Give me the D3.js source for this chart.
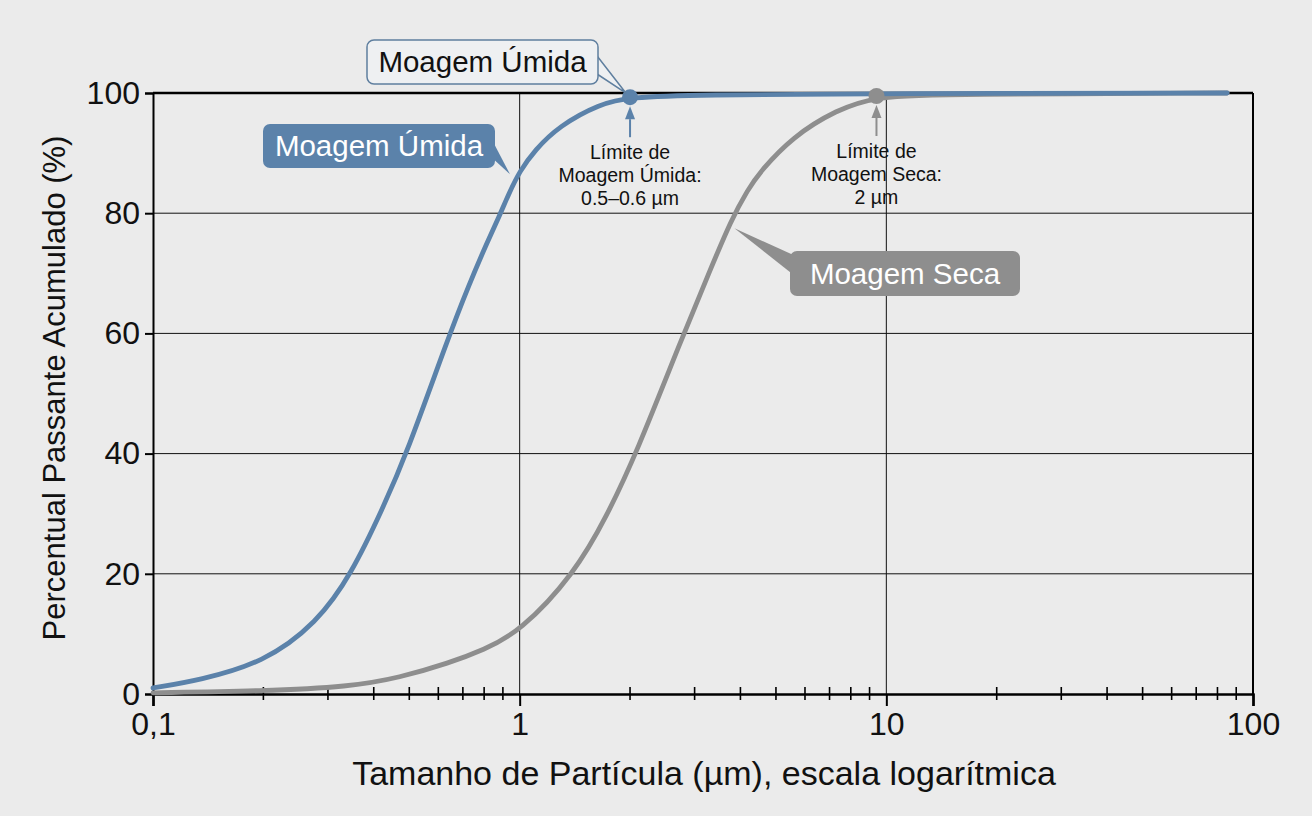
<!DOCTYPE html>
<html>
<head>
<meta charset="utf-8">
<script src="https://cdn.jsdelivr.net/npm/d3@7"></script>
<style>
  body { margin: 0; background: #ebebeb; }
  svg { display: block; font-family: "Liberation Sans", Arial, sans-serif; }
</style>
</head>
<body>
<div id="canvas"></div>
<script>
// Wet milling (Moagem Úmida) cumulative passing
const wetSizes   = [0.1, 0.134, 0.2, 0.28, 0.348, 0.424, 0.492, 0.636, 0.726, 0.82, 0.88, 0.93, 1.0, 1.1, 1.28, 1.65, 2.0, 3.0, 10, 85];
const wetPassing = [1.0, 2.3, 5.2, 11.8, 20, 31, 40, 59, 68, 75.5, 79.5, 83, 87, 90.5, 94.5, 98.2, 99.3, 99.7, 99.9, 100];

// Dry milling (Moagem Seca) cumulative passing
const drySizes   = [0.1, 0.2, 0.344, 0.47, 0.645, 0.794, 1.0, 1.41, 1.726, 2.08, 2.76, 3.28, 3.78, 4.2, 4.51, 5.54, 7.31, 9.4, 15, 85];
const dryPassing = [0.2, 0.5, 1.2, 2.7, 5.2, 7.3, 10.3, 20, 29.5, 40, 59, 70, 79, 84, 86.8, 92.7, 97.2, 99.5, 99.8, 100];

const yTicks = [0, 20, 40, 60, 80, 100];
const xMajor = [0.1, 1, 10, 100];
const xMajorLabels = ["0,1", "1", "10", "100"];

// limit markers
const limits = [
  { size: 2.0, value: 99.3, color: "#5b82aa", lines: ["Límite de", "Moagem Úmida:", "0.5–0.6 µm"] },
  { size: 9.4, value: 99.5, color: "#8e8e8e", lines: ["Límite de", "Moagem Seca:", "2 µm"] }
];

const W = 1312, H = 816;
const margin = { top: 93, right: 59, bottom: 122, left: 153 },
    width = W - margin.left - margin.right,
    height = H - margin.top - margin.bottom;

const svg = d3.select("#canvas").append("svg")
    .attr("width", W).attr("height", H);

const g = svg.append("g")
    .attr("transform", `translate(${margin.left},${margin.top})`);

const x = d3.scaleLog().domain([0.1, 100]).range([0, width]);
const y = d3.scaleLinear().domain([0, 100]).range([height, 0]);

const blue = "#5b82aa", gray = "#8e8e8e";

// grid
g.append("g").selectAll("line")
  .data([20, 40, 60, 80])
  .join("line")
  .attr("x1", 0).attr("x2", width)
  .attr("y1", d => y(d)).attr("y2", d => y(d))
  .attr("stroke", "#111").attr("stroke-width", 1);

g.append("g").selectAll("line")
  .data([1, 10])
  .join("line")
  .attr("x1", d => x(d)).attr("x2", d => x(d))
  .attr("y1", 0).attr("y2", height)
  .attr("stroke", "#111").attr("stroke-width", 1);

// frame
g.append("line").attr("x1", 0).attr("x2", width).attr("y1", 0).attr("y2", 0)
  .attr("stroke", "#000").attr("stroke-width", 2.5);
g.append("line").attr("x1", width).attr("x2", width).attr("y1", 0).attr("y2", height)
  .attr("stroke", "#000").attr("stroke-width", 2);

// y axis
const yAxis = g.append("g")
  .call(d3.axisLeft(y).tickValues(yTicks).tickSize(8).tickPadding(5).tickFormat(d3.format("d")));
yAxis.select(".domain").attr("stroke", "#000").attr("stroke-width", 2);
yAxis.selectAll(".tick line").attr("stroke", "#000").attr("stroke-width", 2);
yAxis.selectAll("text").attr("font-size", 32).attr("fill", "#111")
  .attr("font-family", "Liberation Sans, Arial, sans-serif");

// x axis minor ticks
const minor = [];
[0.1, 1, 10].forEach(b => { for (let k = 2; k <= 9; k++) minor.push(b * k); });
g.append("g").selectAll("line")
  .data(minor)
  .join("line")
  .attr("x1", d => x(d)).attr("x2", d => x(d))
  .attr("y1", height - 7).attr("y2", height + 6)
  .attr("stroke", "#000").attr("stroke-width", 1.6);

const xAxis = g.append("g")
  .attr("transform", `translate(0,${height})`)
  .call(d3.axisBottom(x).tickValues(xMajor).tickSize(12).tickPadding(6)
    .tickFormat((d, i) => xMajorLabels[i]));
xAxis.select(".domain").attr("stroke", "#000").attr("stroke-width", 2.5);
xAxis.selectAll(".tick line").attr("stroke", "#000").attr("stroke-width", 2);
xAxis.selectAll("text").attr("font-size", 32).attr("fill", "#111")
  .attr("font-family", "Liberation Sans, Arial, sans-serif");

// curves (smoothed through the read points)
const line = d3.line()
  .x(d => x(d[0]))
  .y(d => y(d[1]))
  .curve(d3.curveBasis);

g.append("path")
  .datum(drySizes.map((s, i) => [s, dryPassing[i]]))
  .attr("fill", "none").attr("stroke", gray).attr("stroke-width", 4.8)
  .attr("stroke-linecap", "round")
  .attr("d", line);

g.append("path")
  .datum(wetSizes.map((s, i) => [s, wetPassing[i]]))
  .attr("fill", "none").attr("stroke", blue).attr("stroke-width", 4.8)
  .attr("stroke-linecap", "round")
  .attr("d", line);

// limit markers + arrows + notes
limits.forEach(l => {
  const cx = x(l.size), cy = y(l.value);
  g.append("line")
    .attr("x1", cx).attr("x2", cx).attr("y1", cy + 22).attr("y2", cy + 40)
    .attr("stroke", l.color).attr("stroke-width", 2);
  g.append("path")
    .attr("d", `M${cx},${cy + 9}L${cx - 5},${cy + 22}L${cx + 5},${cy + 22}Z`)
    .attr("fill", l.color);
  g.append("circle").attr("cx", cx).attr("cy", cy).attr("r", 8).attr("fill", l.color);
  const t = g.append("text")
    .attr("x", cx).attr("y", cy + 62)
    .attr("text-anchor", "middle").attr("font-size", 19.5).attr("fill", "#111");
  l.lines.forEach((s, i) => t.append("tspan").attr("x", cx).attr("dy", i ? 23 : 0).text(s));
});

// callout helper
function callout(bx, by, bw, bh, tip, fill, txtColor, label) {
  const grp = svg.append("g");
  grp.append("path").attr("d", tip).attr("fill", fill);
  grp.append("rect")
    .attr("x", bx).attr("y", by).attr("width", bw).attr("height", bh).attr("rx", 7)
    .attr("fill", fill);
  grp.append("text")
    .attr("x", bx + bw / 2).attr("y", by + bh / 2 + 10)
    .attr("text-anchor", "middle").attr("font-size", 29.5).attr("fill", txtColor)
    .text(label);
}

// filled wet label pointing to the curve
const wetTipX = margin.left + x(0.965), wetTipY = margin.top + y(86.5);
callout(263, 124, 232, 44,
  `M490,136L${wetTipX - 4},${wetTipY}L490,156Z`, blue, "#fff", "Moagem Úmida");

// filled dry label pointing to the curve
const dryTipX = margin.left + x(3.78), dryTipY = margin.top + y(77.5);
callout(790, 251, 230, 45,
  `M800,258L${dryTipX + 3},${dryTipY}L800,280Z`, gray, "#fff", "Moagem Seca");

// outlined wet label pointing to the limit dot
const dotX = margin.left + x(2.0), dotY = margin.top + y(99.3);
const og = svg.append("g");
og.append("path")
  .attr("d", `M594,52L${dotX - 4},${dotY - 4}L594,72`)
  .attr("fill", "#eef0f2").attr("stroke", "#5f7f9f").attr("stroke-width", 1.5);
og.append("rect")
  .attr("x", 367).attr("y", 40).attr("width", 231).attr("height", 44).attr("rx", 7)
  .attr("fill", "#eef0f2").attr("stroke", "#5f7f9f").attr("stroke-width", 1.5);
og.append("text")
  .attr("x", 482.5).attr("y", 72).attr("text-anchor", "middle")
  .attr("font-size", 29.5).attr("fill", "#111").text("Moagem Úmida");

// axis titles
svg.append("text")
  .attr("x", 704).attr("y", 785)
  .attr("text-anchor", "middle").attr("font-size", 34).attr("fill", "#111")
  .text("Tamanho de Partícula (µm), escala logarítmica");

svg.append("text")
  .attr("transform", `translate(65,388) rotate(-90)`)
  .attr("text-anchor", "middle").attr("font-size", 31).attr("fill", "#111")
  .text("Percentual Passante Acumulado (%)");
</script>
</body>
</html>
